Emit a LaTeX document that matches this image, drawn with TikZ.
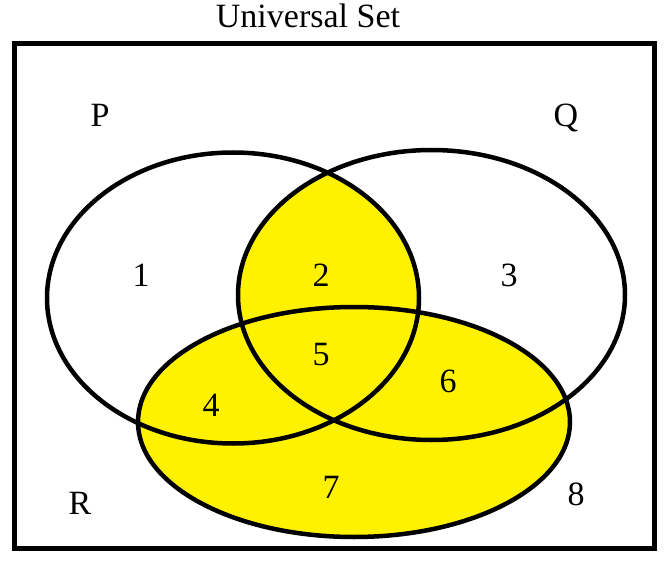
\documentclass[tikz,border=0pt]{standalone}
\usepackage{fontspec}
\setmainfont{Liberation Serif}
\definecolor{vennyellow}{RGB}{255,242,0}
\tikzset{
  lbl/.style={anchor=base, inner sep=0pt, font=\fontsize{34}{40}\selectfont},
  setline/.style={line width=4.5pt, draw=black},
}
\begin{document}
\begin{tikzpicture}[x=1pt,y=-1pt]
\useasboundingbox (0,0) rectangle (672,564);
% fills
\fill[vennyellow] (354,422) ellipse [x radius=216, y radius=115];
\begin{scope}
  \clip (233,298) ellipse [x radius=186, y radius=145.5];
  \fill[vennyellow] (431.5,295) ellipse [x radius=193.5, y radius=145];
\end{scope}
% outlines
\draw[setline] (233,298) ellipse [x radius=186, y radius=145.5];
\draw[setline] (431.5,295) ellipse [x radius=193.5, y radius=145];
\draw[setline] (354,422) ellipse [x radius=216, y radius=115];
\draw[line width=5pt] (14,43.5) rectangle (654,548);
% labels
\node[lbl] (title) at (308,28) {Universal Set};
\node[lbl] (P) at (100,127) {P};
\node[lbl] (Q) at (566,127) {Q};
\node[lbl] (R) at (80,514) {R};
\node[lbl] (n1) at (141,287) {1};
\node[lbl] (n2) at (321,287) {2};
\node[lbl] (n3) at (509,287) {3};
\node[lbl] (n4) at (211,416) {4};
\node[lbl] (n5) at (321,365) {5};
\node[lbl] (n6) at (448,392) {6};
\node[lbl] (n7) at (331,498) {7};
\node[lbl] (n8) at (576,505) {8};
\end{tikzpicture}
\end{document}
